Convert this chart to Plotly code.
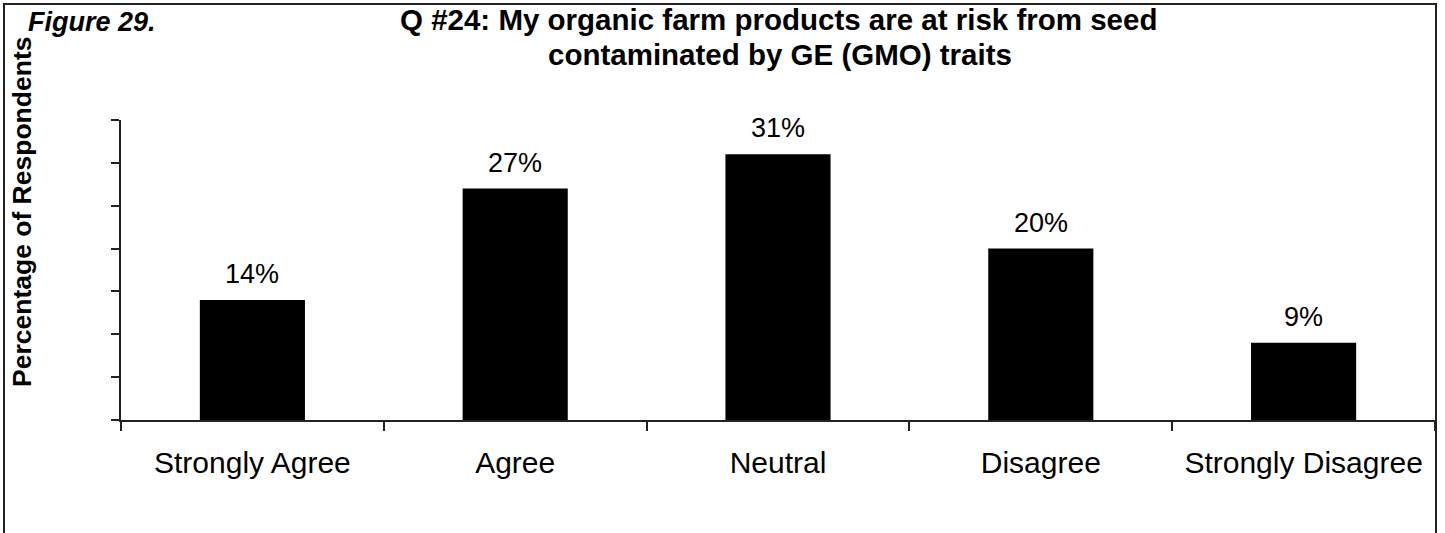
import plotly.graph_objects as go

categories = ["Strongly Agree", "Agree", "Neutral", "Disagree", "Strongly Disagree"]
values = [14, 27, 31, 20, 9]
labels = ["14%", "27%", "31%", "20%", "9%"]

W, H = 1445, 533
L, R, T, B = 121, 10, 120, 113
PW, PH = W - L - R, H - T - B


def px(x):
    return (x - L) / PW


def py(y):
    return (H - B - y) / PH


FONT = "Liberation Sans, Arial, sans-serif"

fig = go.Figure()
fig.add_trace(go.Bar(x=categories, y=values, marker=dict(color="black", line=dict(width=0)),
                     width=0.4, hoverinfo="skip"))

annotations = []
for c, v, t in zip(categories, values, labels):
    annotations.append(dict(x=c, y=v, text=t, showarrow=False, xref="x", yref="y",
                            yanchor="bottom", yshift=9, font=dict(size=27, color="black", family=FONT)))

annotations.append(dict(x=px(26), y=py(22), xref="paper", yref="paper", xanchor="left", yanchor="middle",
                        text="<b><i>Figure 29.</i></b>", showarrow=False,
                        font=dict(size=27, color="black", family=FONT)))
annotations.append(dict(x=px(778), y=py(19), xref="paper", yref="paper", xanchor="center", yanchor="middle",
                        text="<b>Q #24: My organic farm products are at risk from seed</b>",
                        showarrow=False, font=dict(size=29.5, color="black", family=FONT)))
annotations.append(dict(x=px(780), y=py(54), xref="paper", yref="paper", xanchor="center", yanchor="middle",
                        text="<b>contaminated by GE (GMO) traits</b>",
                        showarrow=False, font=dict(size=29.5, color="black", family=FONT)))
annotations.append(dict(x=px(22), y=py(212), xref="paper", yref="paper", xanchor="center", yanchor="middle",
                        text="<b>Percentage of Respondents</b>", textangle=-90, showarrow=False,
                        font=dict(size=26.5, color="black", family=FONT)))

fig.update_layout(
    width=W, height=H,
    margin=dict(l=L, r=R, t=T, b=B, pad=0),
    paper_bgcolor="white", plot_bgcolor="white",
    showlegend=False,
    bargap=0.6,
    font=dict(family=FONT, color="black", size=30),
    annotations=annotations,
    shapes=[dict(type="rect", xref="paper", yref="paper",
                 x0=px(4), x1=px(1436), y0=py(560), y1=py(4),
                 line=dict(color="#222", width=2), fillcolor="rgba(0,0,0,0)", layer="below")],
    xaxis=dict(type="category", showline=True, linecolor="#222", linewidth=2,
               ticks="outside", tickson="boundaries", ticklen=9, tickwidth=2, tickcolor="#222",
               showgrid=False, zeroline=False, ticklabelstandoff=15,
               tickfont=dict(size=30, color="black", family=FONT)),
    yaxis=dict(range=[0, 35], dtick=5, showline=True, linecolor="#222", linewidth=2,
               ticks="outside", ticklen=8, tickwidth=2, tickcolor="#222",
               showticklabels=False, showgrid=False, zeroline=False),
)

fig.write_html("out.html", config={"displayModeBar": False},
               post_script="document.body.style.margin='0';document.body.style.overflow='hidden';")
